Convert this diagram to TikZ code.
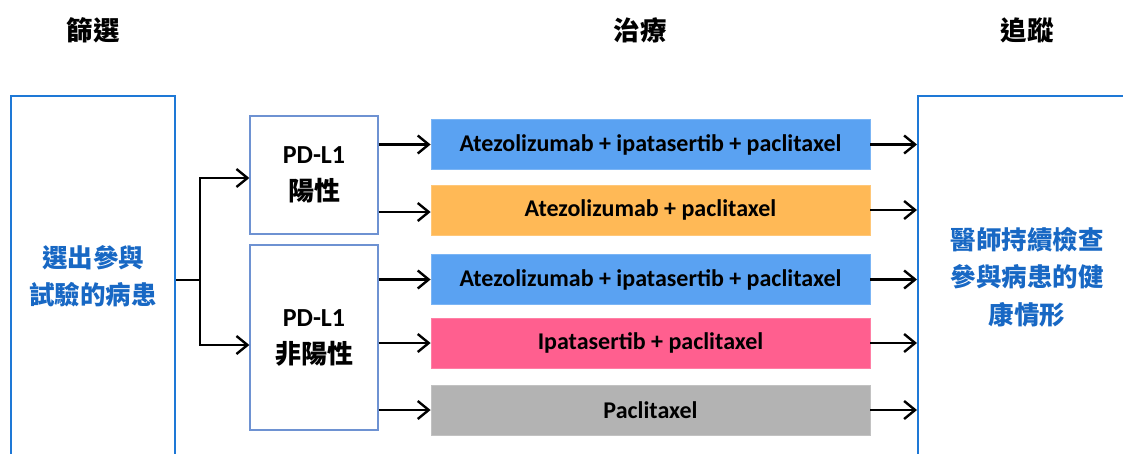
\documentclass[tikz,border=0pt]{standalone}
\usepackage{fontspec}
\setmainfont{Carlito}
\newfontfamily\cjk{Noto Sans CJK TC}
\usetikzlibrary{arrows.meta}
\definecolor{outerblue}{HTML}{1E78D6}
\definecolor{innerblue}{HTML}{6E92D2}
\definecolor{txtblue}{HTML}{1868C4}
\definecolor{barblue}{HTML}{5AA2F2}
\definecolor{barorange}{HTML}{FFB956}
\definecolor{barpink}{HTML}{FF5F8F}
\definecolor{bargray}{HTML}{B3B3B3}
\tikzset{
  outerbox/.style={draw=outerblue, line width=2pt, fill=white, text=txtblue, font=\cjk\bfseries\fontsize{25.5}{37.5}\selectfont, align=center, inner sep=0pt},
  groupbox/.style={draw=innerblue, line width=1.3pt, fill=white, minimum width=128pt, font=\bfseries\fontsize{26}{37}\selectfont, align=center, inner sep=0pt},
  bar/.style={draw=#1!80!white, line width=0.8pt, fill=#1, minimum width=439pt, minimum height=50pt, font=\bfseries\fontsize{24}{28}\selectfont, inner sep=0pt},
  head/.style={font=\cjk\bfseries\fontsize{26.5}{30}\selectfont},
  arr/.style={line width=2.4pt, -{Straight Barb[length=11pt,width=18pt,line width=2.4pt]}},
  link/.style={line width=2.4pt}
}
\begin{document}
\begin{tikzpicture}[x=1pt,y=-1pt]
\useasboundingbox (0,0) rectangle (1123,453);
\begin{scope}
\clip (0,0) rectangle (1123,453);
% headers
\node[head] (h1) at (93,30) {篩選};
\node[head] (h2) at (640,30) {治療};
\node[head] (h3) at (1027,30) {追蹤};
% outer boxes
\node[outerbox, minimum width=164pt, minimum height=360pt] (screen) at (93,276) {選出參與\\試驗的病患};
\node[outerbox, minimum width=218pt, minimum height=362pt] (follow) at (1027,277) {醫師持續檢查\\參與病患的健\\康情形};
% group boxes
\node[groupbox, minimum height=118pt] (pos) at (314,175) {PD-L1\\{\cjk 陽性}};
\node[groupbox, minimum height=185pt] (neg) at (314,337.5) {PD-L1\\{\cjk 非陽性}};
% bars
\node[bar=barblue] (b1) at (650.5,144.5) {Atezolizumab + ipatasertib + paclitaxel};
\node[bar=barorange] (b2) at (650.5,210) {Atezolizumab + paclitaxel};
\node[bar=barblue] (b3) at (650.5,279.5) {Atezolizumab + ipatasertib + paclitaxel};
\node[bar=barpink] (b4) at (650.5,343) {Ipatasertib + paclitaxel};
\node[bar=bargray] (b5) at (650.5,410) {Paclitaxel};
% split connector
\coordinate (split) at (200,280);
\draw[link] (screen.east |- split) -- (split);
\draw[arr] (split) |- (pos.west |- 0,178);
\draw[arr] (split) |- (neg.west |- 0,345);
% group to bars
\draw[arr] (pos.east |- b1) -- (b1.west);
\draw[arr] (pos.east |- 0,212) -- (b2.west |- 0,212);
\draw[arr] (neg.east |- b3) -- (b3.west);
\draw[arr] (neg.east |- b4) -- (b4.west);
\draw[arr] (neg.east |- b5) -- (b5.west);
% bars to follow-up
\draw[arr] (b1.east) -- (follow.west |- b1);
\draw[arr] (b2.east) -- (follow.west |- b2);
\draw[arr] (b3.east) -- (follow.west |- b3);
\draw[arr] (b4.east) -- (follow.west |- b4);
\draw[arr] (b5.east) -- (follow.west |- b5);
\end{scope}
\end{tikzpicture}
\end{document}
